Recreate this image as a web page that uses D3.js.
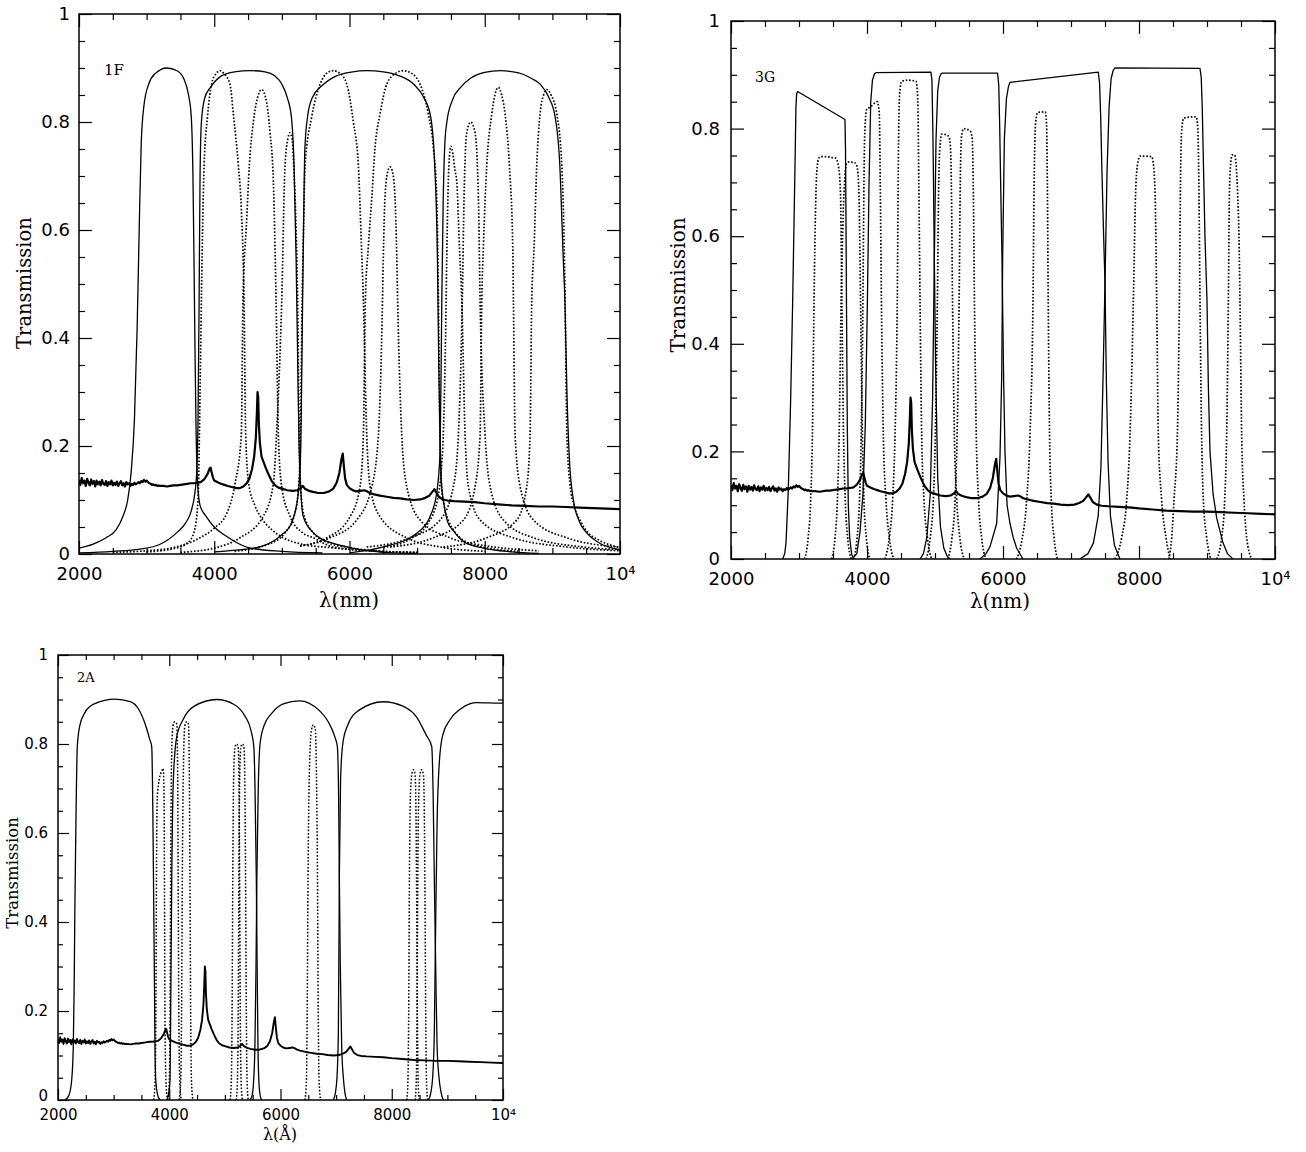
<!DOCTYPE html>
<html>
<head>
<meta charset="utf-8">
<script src="https://cdn.jsdelivr.net/npm/d3@7"></script>
<style>
body { margin: 0; background: #fff; }
</style>
</head>
<body>
<svg id="fig" width="1306" height="1152"></svg>
<script>
// ---- axis ticks ----
const xMajor = [2000, 4000, 6000, 8000, 10000];
const xMinor = [2500, 3000, 3500, 4500, 5000, 5500, 6500, 7000, 7500, 8500, 9000, 9500];
const yMajor = [0, 0.2, 0.4, 0.6, 0.8, 1];
const yMinor = [0.05, 0.1, 0.15, 0.25, 0.3, 0.35, 0.45, 0.5, 0.55, 0.65, 0.7, 0.75, 0.85, 0.9, 0.95];

const panelTags = ["1F", "3G", "2A"];
const xTitles = ["λ(nm)", "λ(nm)", "λ(Å)"];
const yTitle = "Transmission";

// ---- quasar spectrum (same in all panels) [wavelength, transmission-scaled flux] ----
const spectrum = [
  [2000,.137],[2020,.128],[2040,.141],[2060,.131],[2080,.136],[2100,.126],[2120,.139],[2140,.132],[2160,.127],[2180,.138],
  [2200,.130],[2220,.135],[2240,.125],[2260,.136],[2280,.129],[2300,.134],[2320,.127],[2340,.137],[2360,.130],[2380,.128],
  [2400,.135],[2420,.126],[2440,.133],[2460,.129],[2480,.136],[2500,.127],[2520,.132],[2540,.128],[2560,.134],[2580,.126],
  [2600,.131],[2620,.135],[2640,.127],[2660,.131],[2680,.125],[2700,.133],[2720,.129],[2740,.131],[2760,.126],[2780,.130],
  [2800,.128],[2820,.132],[2840,.129],[2860,.131],[2880,.133],[2900,.131],[2920,.135],[2940,.133],[2960,.137],[2980,.134],
  [3000,.136],[3020,.133],[3040,.131],[3060,.130],[3080,.128],[3100,.129],[3120,.127],[3140,.128],[3160,.126],[3180,.127],
  [3200,.126],[3250,.126],[3300,.125],[3350,.126],[3400,.127],[3450,.127],[3500,.128],[3550,.129],[3600,.130],[3650,.131],
  [3700,.131],[3750,.132],[3800,.133],[3850,.138],[3900,.148],[3930,.158],[3945,.160],[3960,.152],[3980,.142],[4000,.136],
  [4050,.133],[4100,.130],[4150,.128],[4200,.126],[4260,.124],[4320,.122],[4380,.122],[4430,.125],[4480,.131],[4520,.140],
  [4560,.158],[4590,.180],[4615,.215],[4630,.260],[4640,.300],[4650,.290],[4660,.240],[4675,.205],[4700,.180],[4730,.170],
  [4760,.160],[4800,.148],[4850,.135],[4900,.127],[4950,.123],[5000,.121],[5080,.118],[5160,.117],[5230,.118],[5280,.122],
  [5310,.126],[5340,.121],[5400,.117],[5460,.115],[5540,.113],[5620,.113],[5700,.116],[5760,.121],[5810,.132],[5850,.150],
  [5880,.175],[5900,.186],[5915,.165],[5935,.140],[5960,.128],[6000,.122],[6050,.118],[6100,.116],[6160,.117],[6220,.118],
  [6260,.116],[6300,.113],[6350,.111],[6450,.108],[6550,.106],[6650,.104],[6750,.103],[6850,.101],[6950,.100],[7050,.101],
  [7120,.104],[7180,.108],[7230,.116],[7255,.120],[7280,.115],[7320,.106],[7380,.101],[7450,.099],[7550,.098],[7700,.097],
  [7850,.096],[8000,.094],[8200,.092],[8400,.090],[8600,.089],[8800,.088],[9000,.088],[9200,.087],[9400,.086],[9600,.085],
  [9800,.084],[10000,.083]
];

// ---- panel 1F : broad filters (solid) ----
const p1s1 = [[2000,.011],[2200,.018],[2400,.030],[2550,.045],[2650,.070],[2720,.100],[2770,.150],[2820,.250],[2860,.420],[2890,.600],[2920,.760],[2960,.830],[3030,.870],[3130,.890],[3300,.900],[3450,.895],[3550,.880],[3620,.850],[3660,.810],[3685,.700],[3700,.550],[3715,.380],[3730,.240],[3750,.140],[3790,.090],[3890,.068],[4000,.050],[4190,.032],[4530,.011],[5000,.005],[5600,.002]];
const p1s2 = [[2000,.002],[2500,.005],[2900,.009],[3200,.018],[3450,.040],[3580,.058],[3660,.080],[3710,.110],[3740,.150],[3760,.250],[3775,.450],[3790,.700],[3810,.800],[3860,.845],[3950,.865],[4100,.885],[4300,.893],[4530,.895],[4750,.893],[4900,.885],[5000,.870],[5080,.845],[5140,.810],[5180,.720],[5210,.550],[5235,.350],[5255,.200],[5275,.130],[5315,.070],[5460,.040],[5600,.027],[5750,.020],[6000,.012],[6500,.003],[7000,.001]];
const p1s3 = [[4000,.004],[4400,.008],[4700,.014],[4900,.026],[5020,.038],[5120,.052],[5190,.075],[5230,.100],[5255,.130],[5280,.200],[5300,.400],[5320,.600],[5340,.750],[5380,.810],[5450,.845],[5600,.868],[5800,.885],[6050,.893],[6250,.895],[6500,.893],[6750,.885],[6950,.870],[7100,.845],[7200,.810],[7260,.720],[7300,.550],[7320,.350],[7340,.200],[7360,.130],[7400,.090],[7450,.060],[7530,.044],[7700,.022],[7980,.011],[8400,.004],[8800,.001]];
const p1s4 = [[6000,.002],[6500,.013],[7000,.039],[7190,.069],[7290,.113],[7340,.190],[7365,.470],[7385,.650],[7410,.760],[7440,.800],[7520,.840],[7650,.865],[7800,.882],[8000,.892],[8230,.895],[8500,.891],[8700,.880],[8820,.870],[8950,.845],[9040,.810],[9110,.720],[9160,.550],[9185,.470],[9215,.300],[9250,.180],[9311,.100],[9400,.060],[9509,.039],[9700,.020],[10000,.008]];

// ---- panel 1F : narrow filters (dotted) ----
const p1d1 = [[3000,.004],[3400,.010],[3600,.020],[3700,.040],[3760,.100],[3790,.300],[3820,.550],[3850,.720],[3900,.810],[3960,.870],[4030,.890],[4085,.895],[4140,.890],[4233,.870],[4282,.815],[4356,.720],[4400,.640],[4440,.470],[4465,.220],[4510,.130],[4600,.090],[4680,.070],[4850,.045],[5020,.030],[5300,.018],[5700,.012],[6300,.006],[7000,.003]];
const p1d2 = [[2500,.003],[3000,.006],[3400,.012],[3790,.030],[4000,.048],[4184,.075],[4307,.130],[4400,.220],[4425,.470],[4480,.620],[4519,.720],[4578,.800],[4640,.845],[4700,.860],[4760,.845],[4825,.780],[4874,.690],[4914,.470],[4948,.220],[4997,.125],[5120,.070],[5300,.040],[5465,.030],[5757,.013],[6300,.006],[7000,.003]];
const p1d3 = [[3500,.003],[4037,.012],[4380,.030],[4726,.070],[4874,.130],[4920,.220],[4998,.470],[5047,.720],[5090,.770],[5120,.780],[5150,.770],[5175,.720],[5210,.600],[5235,.450],[5255,.220],[5275,.130],[5320,.075],[5460,.040],[5700,.020],[6000,.012],[6500,.004]];
const p1d4 = [[4300,.005],[4800,.018],[5050,.040],[5180,.070],[5245,.120],[5275,.220],[5300,.470],[5320,.600],[5343,.720],[5442,.810],[5565,.870],[5660,.890],[5757,.895],[5860,.890],[5959,.870],[6057,.800],[6131,.720],[6171,.590],[6205,.470],[6255,.220],[6304,.125],[6452,.069],[6846,.030],[7340,.013],[8000,.005]];
const p1d5 = [[5269,.015],[5712,.030],[6107,.063],[6330,.125],[6427,.220],[6488,.470],[6500,.550],[6525,.660],[6560,.705],[6600,.717],[6640,.705],[6673,.660],[6699,.550],[6712,.470],[6773,.220],[6846,.125],[7043,.063],[7487,.030],[8030,.015],[8800,.006]];
const p1d6 = [[5269,.015],[5664,.030],[6008,.069],[6156,.125],[6205,.220],[6235,.470],[6279,.570],[6330,.660],[6378,.753],[6452,.815],[6551,.870],[6680,.890],[6795,.895],[6920,.890],[7043,.870],[7166,.815],[7240,.753],[7290,.660],[7315,.470],[7338,.220],[7360,.130],[7400,.090],[7470,.060],[7540,.044],[7700,.024],[8000,.012],[8500,.005]];
const p1d7 = [[6500,.012],[6900,.028],[7150,.055],[7300,.100],[7380,.200],[7420,.400],[7445,.600],[7470,.720],[7500,.755],[7530,.740],[7560,.710],[7586,.690],[7625,.570],[7660,.470],[7709,.220],[7758,.125],[7931,.063],[8423,.030],[9213,.013],[10000,.006]];
const p1d8 = [[6255,.013],[6895,.030],[7339,.063],[7536,.125],[7610,.220],[7668,.470],[7694,.660],[7733,.780],[7793,.800],[7857,.780],[7906,.660],[7931,.470],[8005,.220],[8079,.125],[8276,.063],[8720,.030],[9459,.013],[10000,.008]];
const p1d9 = [[6600,.013],[7240,.030],[7684,.063],[7857,.125],[7931,.220],[7956,.470],[7980,.570],[8030,.720],[8104,.815],[8150,.850],[8202,.864],[8250,.850],[8300,.815],[8364,.720],[8414,.570],[8424,.470],[8449,.220],[8523,.125],[8720,.063],[9213,.030],[9977,.013]];
const p1d10 = [[7388,.013],[8030,.030],[8474,.063],[8621,.125],[8670,.220],[8695,.470],[8730,.570],[8769,.720],[8818,.815],[8870,.850],[8917,.860],[8980,.850],[9065,.815],[9139,.720],[9170,.600],[9188,.470],[9215,.220],[9260,.130],[9320,.090],[9420,.060],[9510,.042],[9700,.025],[10000,.012]];

// ---- panel 3G : broad filters (solid) ----
const p2s1 = [[2760,0],[2790,.010],[2809,.030],[2843,.130],[2878,.300],[2907,.480],[2941,.730],[2955,.840],[2966,.865],[2980,.869],[3676,.817],[3684,.760],[3690,.650],[3698,.480],[3710,.250],[3725,.100],[3745,.040],[3775,.008],[3810,0]];
const p2s2 = [[3780,0],[3850,.010],[3897,.050],[3940,.120],[3975,.250],[4006,.480],[4030,.700],[4055,.850],[4080,.890],[4110,.902],[4130,.904],[4940,.905],[4955,.890],[4968,.800],[4978,.700],[4990,.556],[5010,.350],[5040,.150],[5080,.060],[5130,.020],[5180,.005],[5221,0]];
const p2s3 = [[4780,0],[4830,.010],[4880,.040],[4930,.120],[4965,.300],[4990,.556],[5015,.780],[5040,.870],[5065,.895],[5090,.902],[5110,.903],[5920,.903],[5938,.880],[5952,.800],[5968,.680],[5985,.560],[6010,.330],[6029,.200],[6060,.100],[6103,.066],[6150,.040],[6201,.020],[6294,0]];
const p2s4 = [[5662,0],[5750,.010],[5809,.023],[5907,.066],[5956,.190],[5981,.340],[5995,.560],[6020,.780],[6050,.855],[6080,.878],[6103,.886],[7401,.905],[7420,.885],[7437,.820],[7455,.720],[7480,.600],[7500,.513],[7520,.330],[7545,.180],[7580,.080],[7640,.025],[7720,0]];
const p2s5 = [[7132,0],[7250,.010],[7330,.030],[7400,.080],[7440,.170],[7470,.330],[7500,.513],[7530,.720],[7560,.840],[7590,.893],[7620,.908],[7647,.913],[8897,.912],[8915,.895],[8930,.840],[8945,.750],[8970,.600],[9000,.480],[9020,.320],[9044,.200],[9090,.120],[9143,.076],[9235,.030],[9300,.010],[9382,0]];

// ---- panel 3G : medium filters (dotted) ----
const p2d1 = [[3080,0],[3135,.040],[3172,.110],[3197,.230],[3221,.480],[3245,.660],[3262,.720],[3290,.745],[3330,.748],[3540,.745],[3580,.730],[3610,.680],[3630,.480],[3655,.230],[3680,.110],[3715,.040],[3770,0]];
const p2d2 = [[3480,0],[3530,.040],[3565,.110],[3590,.230],[3620,.480],[3650,.640],[3675,.710],[3700,.735],[3740,.738],[3830,.736],[3860,.725],[3885,.660],[3905,.480],[3932,.230],[3955,.110],[3990,.040],[4040,0]];
const p2d3 = [[3800,0],[3855,.040],[3890,.110],[3915,.230],[3940,.480],[3955,.700],[3970,.800],[3995,.835],[4050,.840],[4150,.850],[4180,.830],[4195,.700],[4212,.480],[4240,.230],[4279,.110],[4328,.040],[4390,0]];
const p2d4 = [[4265,0],[4328,.040],[4377,.110],[4412,.230],[4445,.480],[4462,.750],[4480,.865],[4510,.888],[4600,.890],[4720,.888],[4745,.860],[4762,.700],[4780,.480],[4804,.230],[4838,.110],[4887,.040],[4950,0]];
const p2d5 = [[4870,0],[4930,.040],[4975,.110],[5005,.230],[5035,.480],[5055,.700],[5075,.770],[5100,.790],[5200,.786],[5225,.770],[5240,.700],[5258,.480],[5285,.230],[5320,.110],[5365,.040],[5430,0]];
const p2d6 = [[5190,0],[5250,.040],[5295,.110],[5325,.230],[5355,.480],[5372,.700],[5390,.785],[5420,.800],[5520,.795],[5548,.780],[5562,.700],[5580,.480],[5607,.230],[5640,.110],[5685,.040],[5750,0]];
const p2d7 = [[6200,0],[6270,.030],[6348,.110],[6397,.230],[6441,.480],[6460,.720],[6480,.810],[6510,.830],[6620,.831],[6640,.810],[6652,.700],[6665,.480],[6685,.230],[6710,.110],[6750,.040],[6800,0]];
const p2d8 = [[7647,0],[7745,.040],[7819,.110],[7868,.230],[7917,.480],[7950,.680],[7975,.730],[8015,.749],[8187,.748],[8215,.730],[8240,.660],[8260,.480],[8284,.230],[8333,.110],[8397,.040],[8456,0]];
const p2d9 = [[8440,0],[8481,.040],[8515,.110],[8564,.230],[8594,.480],[8612,.720],[8630,.800],[8660,.820],[8840,.822],[8865,.800],[8880,.700],[8897,.480],[8921,.230],[8946,.110],[8995,.040],[9054,0]];
const p2d10 = [[9143,0],[9216,.040],[9260,.110],[9289,.230],[9314,.480],[9330,.680],[9345,.730],[9370,.751],[9405,.751],[9430,.730],[9450,.680],[9470,.600],[9485,.480],[9510,.230],[9544,.110],[9583,.040],[9657,0]];

// ---- panel 2A : broad filters (solid) ----
const p3s1 = [[2126,0],[2200,.012],[2246,.045],[2275,.120],[2290,.250],[2305,.450],[2325,.650],[2347,.794],[2390,.840],[2480,.870],[2650,.890],[3025,.901],[3300,.895],[3450,.878],[3580,.840],[3650,.810],[3685,.794],[3705,.650],[3720,.450],[3735,.250],[3745,.100],[3760,.040],[3790,.012],[3834,0]];
const p3s2 = [[3954,0],[3990,.015],[4014,.045],[4026,.200],[4045,.500],[4074,.720],[4134,.816],[4250,.855],[4450,.885],[4853,.900],[5150,.890],[5350,.865],[5470,.830],[5520,.794],[5542,.700],[5565,.500],[5580,.300],[5595,.120],[5610,.045],[5635,.010],[5662,0]];
const p3s3 = [[5452,0],[5490,.010],[5515,.040],[5540,.120],[5560,.300],[5575,.500],[5600,.700],[5632,.800],[5700,.840],[5850,.870],[6050,.890],[6339,.897],[6700,.875],[6900,.840],[6980,.815],[7022,.794],[7045,.680],[7058,.500],[7075,.300],[7100,.120],[7130,.050],[7160,.015],[7190,0]];
const p3s4 = [[6950,0],[6985,.015],[7015,.050],[7040,.150],[7058,.500],[7080,.720],[7119,.800],[7200,.840],[7400,.875],[7849,.895],[8200,.885],[8450,.860],[8620,.820],[8719,.794],[8745,.680],[8765,.500],[8790,.300],[8815,.120],[8850,.050],[8890,.015],[8928,0]];
const p3s5 = [[8658,0],[8700,.015],[8735,.050],[8765,.150],[8790,.400],[8815,.620],[8856,.760],[8917,.820],[9050,.855],[9250,.880],[9529,.893],[9947,.892],[10000,.892]];

// ---- panel 2A : very narrow filters (dotted) ----
const p3d1 = [[3720,0],[3745,.040],[3760,.200],[3770,.500],[3785,.680],[3820,.720],[3870,.740],[3890,.745],[3905,.700],[3915,.450],[3925,.150],[3945,.030],[3970,0]];
const p3d2 = [[3975,0],[4000,.040],[4015,.200],[4025,.500],[4040,.750],[4065,.840],[4100,.850],[4135,.845],[4150,.750],[4160,.500],[4172,.200],[4190,.040],[4215,0]];
const p3d3 = [[4180,0],[4205,.040],[4222,.200],[4235,.500],[4255,.750],[4280,.840],[4310,.850],[4345,.845],[4360,.750],[4372,.500],[4385,.200],[4400,.040],[4425,0]];
const p3d4 = [[5095,0],[5115,.040],[5130,.200],[5142,.500],[5160,.740],[5185,.795],[5215,.800],[5240,.790],[5255,.700],[5265,.500],[5277,.200],[5292,.040],[5315,0]];
const p3d5 = [[5205,0],[5225,.040],[5240,.200],[5252,.500],[5268,.740],[5290,.795],[5320,.800],[5345,.790],[5360,.700],[5372,.500],[5385,.200],[5400,.040],[5420,0]];
const p3d6 = [[6440,0],[6465,.040],[6480,.200],[6495,.500],[6520,.740],[6555,.830],[6590,.843],[6625,.835],[6645,.740],[6665,.500],[6678,.200],[6695,.040],[6720,0]];
const p3d7 = [[8270,0],[8290,.040],[8305,.200],[8318,.500],[8335,.680],[8365,.735],[8395,.742],[8420,.730],[8435,.650],[8448,.450],[8460,.200],[8475,.040],[8495,0]];
const p3d8 = [[8420,0],[8440,.040],[8455,.200],[8468,.500],[8485,.680],[8512,.735],[8540,.742],[8570,.730],[8585,.650],[8598,.450],[8610,.200],[8625,.040],[8645,0]];

const panel1Solid = [p1s1, p1s2, p1s3, p1s4];
const panel1Dotted = [p1d1, p1d2, p1d3, p1d4, p1d5, p1d6, p1d7, p1d8, p1d9, p1d10];
const panel2Solid = [p2s1, p2s2, p2s3, p2s4, p2s5];
const panel2Dotted = [p2d1, p2d2, p2d3, p2d4, p2d5, p2d6, p2d7, p2d8, p2d9, p2d10];
const panel3Solid = [p3s1, p3s2, p3s3, p3s4, p3s5];
const panel3Dotted = [p3d1, p3d2, p3d3, p3d4, p3d5, p3d6, p3d7, p3d8];

// ---- layout (pixels) ----
const layout = [
  { left: 79, top: 14, right: 620, bottom: 554, tickFont: 18, major: 13, minor: 6, xPad: 13, yPad: 9, boxy: false, zeroLift: 0,
    ylabX: 31, ylabY: 283, ylabFont: 19.5, xlabX: 349, xlabY: 607, xlabFont: 20, tagX: 104, tagY: 75, tagFont: 15 },
  { left: 731, top: 21, right: 1275, bottom: 559, tickFont: 18, major: 13, minor: 6, xPad: 13, yPad: 11, boxy: true, zeroLift: 0,
    ylabX: 685, ylabY: 285, ylabFont: 20, xlabX: 1000, xlabY: 608, xlabFont: 20, tagX: 755, tagY: 82, tagFont: 14 },
  { left: 58, top: 655, right: 503, bottom: 1100, tickFont: 15, major: 11, minor: 5, xPad: 9, yPad: 10, boxy: false, zeroLift: 4,
    ylabX: 18, ylabY: 873, ylabFont: 16.5, xlabX: 280, xlabY: 1140, xlabFont: 16, tagX: 77, tagY: 682, tagFont: 13 }
];

const svg = d3.select("#fig");
const tickFmt = d => d === 10000 ? "10\u2074" : (d === 0 || d === 1 ? String(d) : (d < 2 ? d3.format(".1f")(d) : String(d)));

function drawPanel(i, solid, dotted) {
  const L = layout[i];
  const x = d3.scaleLinear().domain([2000, 10000]).range([L.left, L.right]);
  const y = d3.scaleLinear().domain([0, 1]).range([L.bottom, L.top]);

  svg.append("clipPath").attr("id", "clip" + i)
    .append("rect")
    .attr("x", L.left).attr("y", L.top)
    .attr("width", L.right - L.left).attr("height", L.bottom - L.top);

  const smooth = d3.line().x(d => x(d[0])).y(d => y(d[1])).curve(d3.curveMonotoneX);
  const straight = d3.line().x(d => x(d[0])).y(d => y(d[1]));

  const plot = svg.append("g").attr("clip-path", `url(#clip${i})`);

  plot.selectAll("path.dotted").data(dotted).join("path")
    .attr("class", "dotted")
    .attr("d", smooth)
    .attr("fill", "none")
    .attr("stroke", "#000")
    .attr("stroke-width", i === 2 ? 1.5 : 1.7)
    .attr("stroke-dasharray", "1.6,1.8");

  plot.selectAll("path.solid").data(solid).join("path")
    .attr("class", "solid")
    .attr("d", L.boxy ? straight : smooth)
    .attr("fill", "none")
    .attr("stroke", "#000")
    .attr("stroke-width", 1.3)
    .attr("stroke-linejoin", "round");

  plot.append("path")
    .datum(spectrum)
    .attr("d", straight)
    .attr("fill", "none")
    .attr("stroke", "#000")
    .attr("stroke-width", i === 2 ? 1.9 : 2.2)
    .attr("stroke-linejoin", "round");

  // axes, ticks pointing inward on all four sides
  const styleAxis = g => {
    g.select(".domain").remove();
    g.selectAll("line").attr("stroke", "#000").attr("stroke-width", 1.2);
    g.selectAll("text").attr("fill", "#000")
      .attr("font-family", "'DejaVu Sans', sans-serif")
      .attr("font-size", L.tickFont);
  };

  svg.append("g").attr("transform", `translate(0,${L.bottom})`)
    .call(d3.axisBottom(x).tickValues(xMajor).tickSize(-L.major).tickPadding(L.xPad).tickFormat(tickFmt))
    .call(styleAxis);
  svg.append("g").attr("transform", `translate(0,${L.bottom})`)
    .call(d3.axisBottom(x).tickValues(xMinor).tickSize(-L.minor).tickFormat(""))
    .call(styleAxis);
  svg.append("g").attr("transform", `translate(0,${L.top})`)
    .call(d3.axisTop(x).tickValues(xMajor).tickSize(-L.major).tickFormat(""))
    .call(styleAxis);
  svg.append("g").attr("transform", `translate(0,${L.top})`)
    .call(d3.axisTop(x).tickValues(xMinor).tickSize(-L.minor).tickFormat(""))
    .call(styleAxis);

  const yAxis = svg.append("g").attr("transform", `translate(${L.left},0)`)
    .call(d3.axisLeft(y).tickValues(yMajor).tickSize(-L.major).tickPadding(L.yPad).tickFormat(tickFmt))
    .call(styleAxis);
  // lift the "0" label a little so it clears the first x label
  yAxis.selectAll(".tick").filter(d => d === 0).select("text")
    .attr("y", -L.zeroLift);
  svg.append("g").attr("transform", `translate(${L.left},0)`)
    .call(d3.axisLeft(y).tickValues(yMinor).tickSize(-L.minor).tickFormat(""))
    .call(styleAxis);
  svg.append("g").attr("transform", `translate(${L.right},0)`)
    .call(d3.axisRight(y).tickValues(yMajor).tickSize(-L.major).tickFormat(""))
    .call(styleAxis);
  svg.append("g").attr("transform", `translate(${L.right},0)`)
    .call(d3.axisRight(y).tickValues(yMinor).tickSize(-L.minor).tickFormat(""))
    .call(styleAxis);

  // frame
  svg.append("rect")
    .attr("x", L.left).attr("y", L.top)
    .attr("width", L.right - L.left).attr("height", L.bottom - L.top)
    .attr("fill", "none").attr("stroke", "#000").attr("stroke-width", 1.5);

  // titles
  svg.append("text")
    .attr("transform", `translate(${L.ylabX},${L.ylabY}) rotate(-90)`)
    .attr("text-anchor", "middle")
    .attr("font-family", "'DejaVu Serif', serif")
    .attr("font-size", L.ylabFont)
    .text(yTitle);
  svg.append("text")
    .attr("x", L.xlabX).attr("y", L.xlabY)
    .attr("text-anchor", "middle")
    .attr("font-family", "'DejaVu Serif', serif")
    .attr("font-size", L.xlabFont)
    .text(xTitles[i]);
  svg.append("text")
    .attr("x", L.tagX).attr("y", L.tagY)
    .attr("font-family", "'DejaVu Serif', serif")
    .attr("font-size", L.tagFont)
    .text(panelTags[i]);
}

drawPanel(0, panel1Solid, panel1Dotted);
drawPanel(1, panel2Solid, panel2Dotted);
drawPanel(2, panel3Solid, panel3Dotted);
</script>
</body>
</html>
